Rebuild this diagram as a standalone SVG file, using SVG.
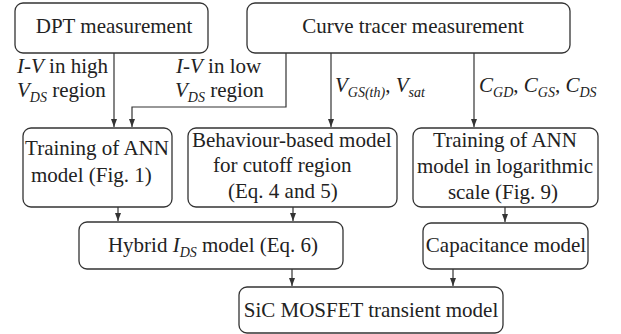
<svg xmlns="http://www.w3.org/2000/svg" width="621" height="334" viewBox="0 0 621 334">
<style>
.box{fill:#fff;stroke:#333;stroke-width:1.3}
.t{font-family:"Liberation Serif","Times New Roman",serif;font-size:21px;fill:#222}
.m{text-anchor:middle}
.i{font-style:italic}
.s{font-size:14px;font-style:italic}
.c{fill:none;stroke:#333;stroke-width:1.2}
</style>
<defs>
<marker id="ah" viewBox="0 0 8 8" refX="8" refY="4" markerWidth="8" markerHeight="8" markerUnits="userSpaceOnUse" orient="auto">
<path d="M0,1 L8,4 L0,7 Z" fill="#333"/>
</marker>
</defs>
<rect width="621" height="334" fill="#fff"/>
<g id="connectors">
<path class="c" d="M114,53 V127" marker-end="url(#ah)"/>
<path class="c" d="M286,53 V107 H132 V127" marker-end="url(#ah)"/>
<path class="c" d="M331,53 V127" marker-end="url(#ah)"/>
<path class="c" d="M474,53 V127" marker-end="url(#ah)"/>
<path class="c" d="M118,207 V221" marker-end="url(#ah)"/>
<path class="c" d="M293,207 V221" marker-end="url(#ah)"/>
<path class="c" d="M505,207 V222" marker-end="url(#ah)"/>
<path class="c" d="M292,269 V286" marker-end="url(#ah)"/>
<path class="c" d="M453,269 V286" marker-end="url(#ah)"/>
<text class="t" x="17" y="73"><tspan class="i">I</tspan>-<tspan class="i">V</tspan> in high</text>
<text class="t" x="17" y="97"><tspan class="i">V</tspan><tspan class="s" dy="5">DS</tspan><tspan dy="-5"> region</tspan></text>
<text class="t" x="176" y="73"><tspan class="i">I</tspan>-<tspan class="i">V</tspan> in low</text>
<text class="t" x="175" y="97"><tspan class="i">V</tspan><tspan class="s" dy="5">DS</tspan><tspan dy="-5"> region</tspan></text>
<text class="t" x="335" y="92"><tspan class="i">V</tspan><tspan class="s" dy="5">GS(th)</tspan><tspan dy="-5">, </tspan><tspan class="i">V</tspan><tspan class="s" dy="5">sat</tspan></text>
<text class="t" x="479" y="92"><tspan class="i">C</tspan><tspan class="s" dy="5">GD</tspan><tspan dy="-5">, </tspan><tspan class="i">C</tspan><tspan class="s" dy="5">GS</tspan><tspan dy="-5">, </tspan><tspan class="i">C</tspan><tspan class="s" dy="5">DS</tspan></text>
</g>
<g id="dpt">
<rect class="box" x="15" y="3" width="193" height="50" rx="8"/>
<text class="t m" x="114" y="33">DPT measurement</text>
</g>
<g id="curve">
<rect class="box" x="247" y="3" width="323" height="50" rx="8"/>
<text class="t m" x="413" y="33">Curve tracer measurement</text>
</g>
<g id="ann">
<rect class="box" x="23" y="128" width="149" height="79" rx="8"/>
<text class="t m" x="97" y="155">Training of ANN</text>
<text class="t" x="31" y="182">model (Fig. 1)</text>
</g>
<g id="behaviour">
<rect class="box" x="188" y="128" width="209" height="79" rx="8"/>
<text class="t" x="192" y="147">Behaviour-based model</text>
<text class="t" x="213" y="172">for cutoff region</text>
<text class="t" x="228" y="198">(Eq. 4 and 5)</text>
</g>
<g id="annlog">
<rect class="box" x="413" y="128" width="185" height="79" rx="8"/>
<text class="t m" x="505" y="147">Training of ANN</text>
<text class="t m" x="505" y="173">model in logarithmic</text>
<text class="t m" x="503" y="199">scale (Fig. 9)</text>
</g>
<g id="hybrid">
<rect class="box" x="79" y="222" width="264" height="47" rx="8"/>
<text class="t m" x="213" y="252">Hybrid <tspan class="i">I</tspan><tspan class="s" dy="5">DS</tspan><tspan dy="-5"> model (Eq. 6)</tspan></text>
</g>
<g id="capacitance">
<rect class="box" x="423" y="223" width="165" height="46" rx="8"/>
<text class="t m" x="506" y="252">Capacitance model</text>
</g>
<g id="sic">
<rect class="box" x="239" y="287" width="264" height="46" rx="8"/>
<text class="t m" x="371" y="317">SiC MOSFET transient model</text>
</g>
</svg>
